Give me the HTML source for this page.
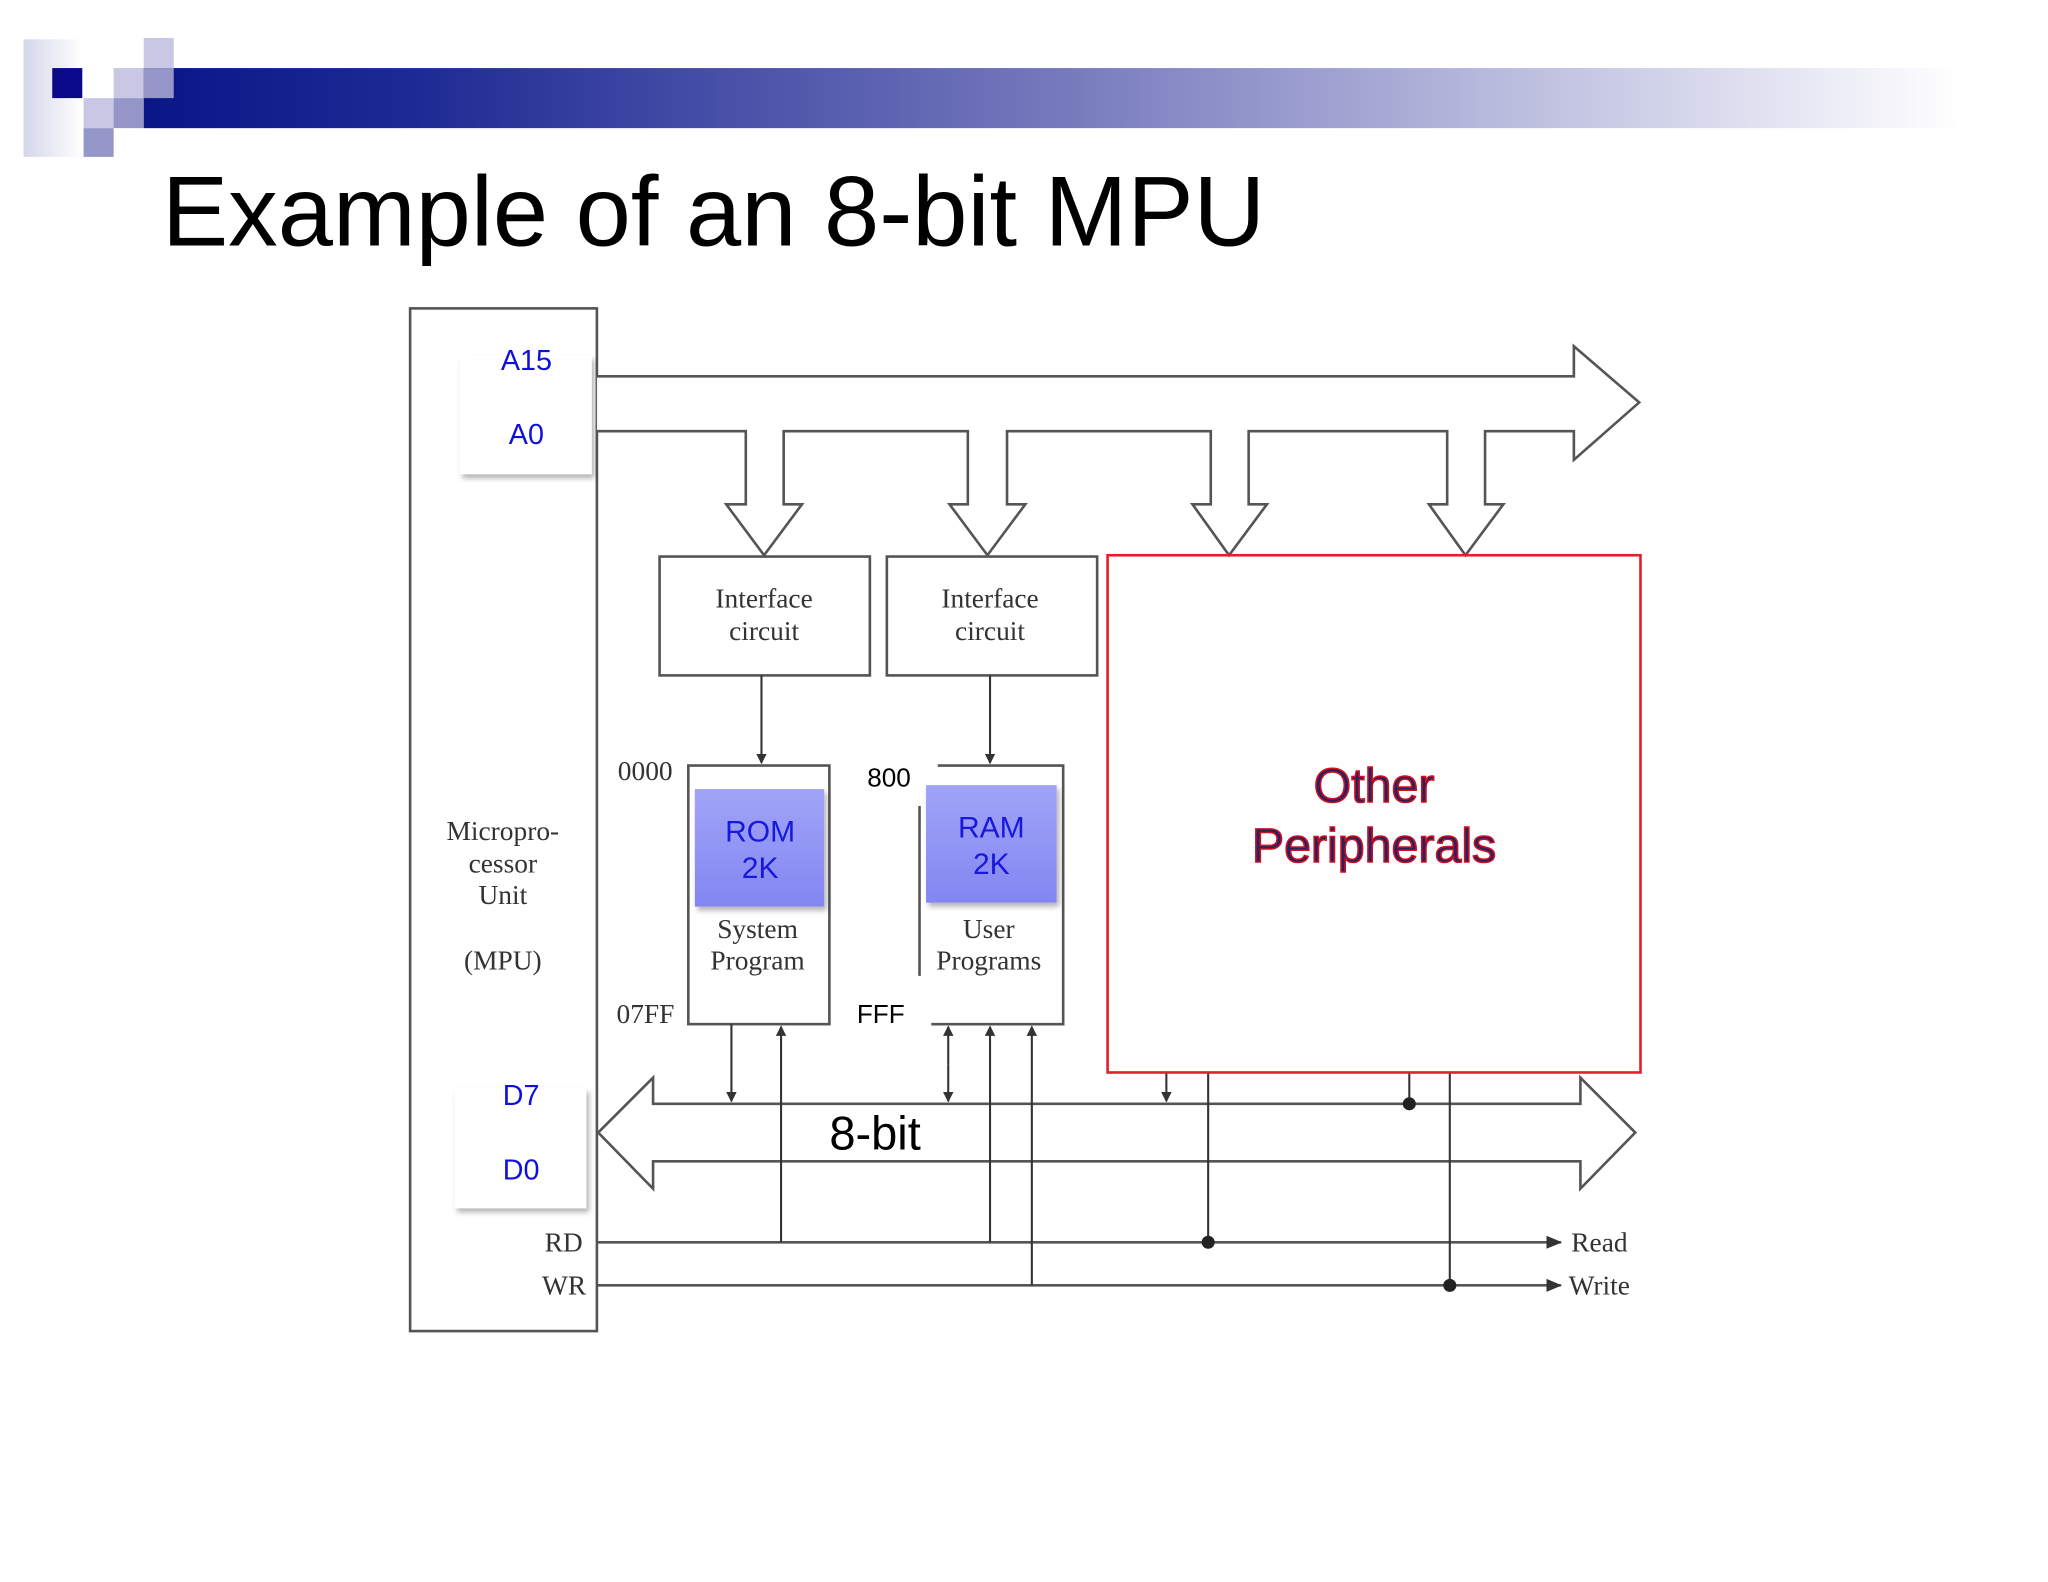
<!DOCTYPE html>
<html><head><meta charset="utf-8"><style>
html,body{margin:0;padding:0;background:#fff;}
svg{display:block;}
.s{font-family:"Liberation Serif",serif;fill:#333;}
.a{font-family:"Liberation Sans",sans-serif;}
</style></head><body>
<svg width="2048" height="1582" viewBox="0 0 1568 1211" xmlns="http://www.w3.org/2000/svg">
<defs>
<linearGradient id="bar" x1="0" x2="1" y1="0" y2="0">
<stop offset="0" stop-color="#0a1688"/><stop offset="0.15" stop-color="#1e2a94"/><stop offset="0.5" stop-color="#7478bc"/><stop offset="1" stop-color="#ffffff"/>
</linearGradient>
<linearGradient id="lg" x1="0" x2="1"><stop offset="0" stop-color="#d4d6ea"/><stop offset="1" stop-color="#ffffff"/></linearGradient>
<linearGradient id="bl" x1="0" x2="0" y1="0" y2="1"><stop offset="0" stop-color="#a0a4f6"/><stop offset="1" stop-color="#8286f2"/></linearGradient>
<marker id="ah" markerWidth="8" markerHeight="8" refX="7" refY="4" orient="auto" markerUnits="userSpaceOnUse" viewBox="0 0 8 8"><path d="M0,0 L8,4 L0,8 z" fill="#333"/></marker>
<marker id="ah2" markerWidth="12" markerHeight="10" refX="11" refY="5" orient="auto" markerUnits="userSpaceOnUse" viewBox="0 0 12 10"><path d="M0,0 L12,5 L0,10 z" fill="#333"/></marker>
<filter id="sh" x="-10%" y="-10%" width="130%" height="130%"><feDropShadow dx="2" dy="3" stdDeviation="2" flood-color="#000" flood-opacity="0.3"/></filter>
</defs>
<rect x="18" y="30" width="45" height="90" fill="url(#lg)"/>
<rect x="110" y="52" width="1390" height="46" fill="url(#bar)"/>
<rect x="40" y="52" width="23" height="23" fill="#0a0a8a"/>
<rect x="110" y="29" width="23" height="23" fill="#c8c8e4"/>
<rect x="87" y="52" width="23" height="23" fill="#c8c8e4"/>
<rect x="110" y="52" width="23" height="23" fill="#9496c8"/>
<rect x="64" y="75" width="23" height="23" fill="#c8c8e4"/>
<rect x="87" y="75" width="23" height="23" fill="#9496c8"/>
<rect x="64" y="98" width="23" height="22" fill="#9496c8"/>
<text x="124" y="188" class="a" font-size="76" fill="#000">Example of an 8-bit MPU</text>

<g stroke="#555" stroke-width="2" fill="none">
<rect x="314" y="236" width="143" height="783"/>
<path d="M457,288 H1205 V265 L1255,308 L1205,352 V330 H1137 V386 H1151 L1122,425 L1094,386 H1108 V330 H956 V386 H970 L941,425 L913,386 H927 V330 H771 V386 H785 L756,425 L727,386 H741 V330 H600 V386 H614 L585,425 L556,386 H571 V330 H457" fill="#fff"/>
<rect x="505" y="426" width="161" height="91"/>
<rect x="679" y="426" width="161" height="91"/>
<rect x="527" y="586" width="108" height="198"/>
<path d="M718,586 H814 V784 H713"/>
<path d="M704,617 V747"/>
<path d="M500,845 V825 L458,867 L500,910 V889 H1210 V910 L1252,867 L1210,825 V845 Z" fill="#fff"/>
<path d="M457,951 H1195" marker-end="url(#ah2)"/>
<path d="M457,984 H1195" marker-end="url(#ah2)"/>
</g>
<g stroke="#333" stroke-width="1.6" fill="none">
<path d="M583,517 V584" marker-end="url(#ah)"/>
<path d="M758,517 V584" marker-end="url(#ah)"/>
<path d="M560,784 V843" marker-end="url(#ah)"/>
<path d="M598,951 V786" marker-end="url(#ah)"/>
<path d="M726,815 V786" marker-end="url(#ah)"/>
<path d="M726,815 V843" marker-end="url(#ah)"/>
<path d="M758,951 V786" marker-end="url(#ah)"/>
<path d="M790,984 V786" marker-end="url(#ah)"/>
<path d="M893,821 V843" marker-end="url(#ah)"/>
<path d="M1079,821 V845"/>
<path d="M925,821 V951"/>
<path d="M1110,821 V984"/>
</g>
<circle cx="1079" cy="845" r="5" fill="#222"/>
<circle cx="925" cy="951" r="5" fill="#222"/>
<circle cx="1110" cy="984" r="5" fill="#222"/>
<rect x="848" y="425" width="408" height="396" fill="none" stroke="#e0202a" stroke-width="2"/>
<text x="1052" y="614" text-anchor="middle" class="a" font-size="37" fill="#2a2060" stroke="#d01020" stroke-width="1.2">Other</text>
<text x="1052" y="660" text-anchor="middle" class="a" font-size="37" fill="#2a2060" stroke="#d01020" stroke-width="1.2">Peripherals</text>
<rect x="352" y="272" width="101" height="91" fill="#fff" filter="url(#sh)"/>
<rect x="348" y="833" width="101" height="92" fill="#fff" filter="url(#sh)"/>
<text x="403" y="283" text-anchor="middle" class="a" font-size="22" fill="#1010dd">A15</text>
<text x="403" y="340" text-anchor="middle" class="a" font-size="22" fill="#1010dd">A0</text>
<text x="399" y="846" text-anchor="middle" class="a" font-size="22" fill="#1010dd">D7</text>
<text x="399" y="903" text-anchor="middle" class="a" font-size="22" fill="#1010dd">D0</text>
<rect x="532" y="604" width="99" height="90" fill="url(#bl)" filter="url(#sh)"/>
<rect x="709" y="601" width="100" height="90" fill="url(#bl)" filter="url(#sh)"/>
<text x="582" y="644" text-anchor="middle" class="a" font-size="23" fill="#1818dd">ROM</text>
<text x="582" y="672" text-anchor="middle" class="a" font-size="23" fill="#1818dd">2K</text>
<text x="759" y="641" text-anchor="middle" class="a" font-size="23" fill="#1818dd">RAM</text>
<text x="759" y="669" text-anchor="middle" class="a" font-size="23" fill="#1818dd">2K</text>
<g class="s" font-size="21" text-anchor="middle">
<text x="585" y="465">Interface</text><text x="585" y="490">circuit</text>
<text x="758" y="465">Interface</text><text x="758" y="490">circuit</text>
<text x="580" y="718">System</text><text x="580" y="742">Program</text>
<text x="757" y="718">User</text><text x="757" y="742">Programs</text>
<text x="385" y="643">Micropro-</text><text x="385" y="668">cessor</text><text x="385" y="692">Unit</text><text x="385" y="742">(MPU)</text>
</g>
<g class="s" font-size="21">
<text x="473" y="597">0000</text>
<text x="472" y="783">07FF</text>
<text x="417" y="958">RD</text>
<text x="415" y="991">WR</text>
<text x="1203" y="958">Read</text>
<text x="1201" y="991">Write</text>
</g>
<text x="664" y="602" class="a" font-size="20" fill="#000">800</text>
<text x="656" y="783" class="a" font-size="20" fill="#000">FFF</text>
<text x="670" y="880" text-anchor="middle" class="a" font-size="36" fill="#000">8-bit</text>
</svg>
</body></html>
